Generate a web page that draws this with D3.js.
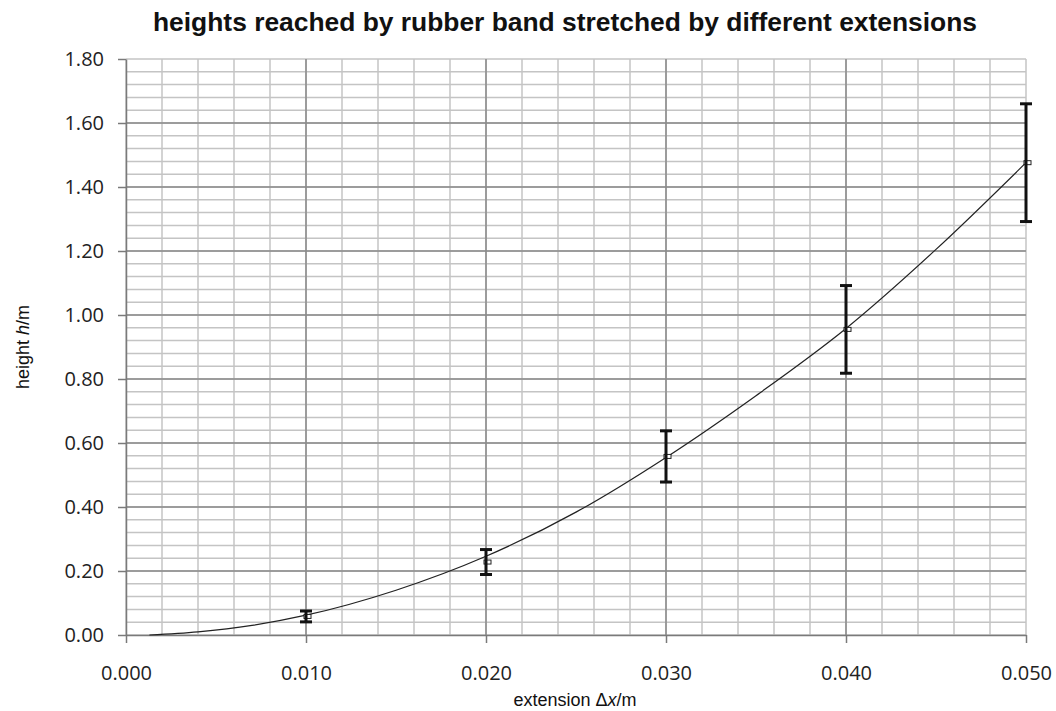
<!DOCTYPE html>
<html><head><meta charset="utf-8">
<script src="https://cdn.jsdelivr.net/npm/d3@7"></script>
<style>
html,body{margin:0;padding:0;background:#fff;}
svg{display:block;}
</style></head>
<body>
<svg id="chart" width="1056" height="711"></svg>
<script>
// ---- data ----
const extensions = [0.010, 0.020, 0.030, 0.040, 0.050];
const heights    = [0.058, 0.228, 0.558, 0.955, 1.476];
const errors     = [0.017, 0.039, 0.080, 0.137, 0.184];
const curveX = [0.0013, 0.004, 0.007, 0.010, 0.015, 0.020, 0.025, 0.030, 0.035, 0.040, 0.045, 0.050];
const curveY = [0.000, 0.010, 0.030, 0.062, 0.140, 0.246, 0.384, 0.555, 0.748, 0.958, 1.205, 1.476];
const xTicks = [0.000, 0.010, 0.020, 0.030, 0.040, 0.050];
const yTicks = [0.00, 0.20, 0.40, 0.60, 0.80, 1.00, 1.20, 1.40, 1.60, 1.80];
const xMinor = d3.range(0, 26).map(i => i * 0.002);
const yMinor = d3.range(0, 46).map(i => i * 0.04);

const svg = d3.select("#chart");
const m = {left:126, right:1026, top:59, bottom:635};
const x = d3.scaleLinear().domain([0, 0.05]).range([m.left, m.right]);
const y = d3.scaleLinear().domain([0, 1.8]).range([m.bottom, m.top]);

// minor grid
svg.append("g").selectAll("line").data(xMinor).join("line")
  .attr("x1", d => x(d)).attr("x2", d => x(d)).attr("y1", y(0)).attr("y2", y(1.8))
  .attr("stroke", "#c4c4c4").attr("stroke-width", 1.5);
svg.append("g").selectAll("line").data(yMinor).join("line")
  .attr("y1", d => y(d)).attr("y2", d => y(d)).attr("x1", x(0)).attr("x2", x(0.05))
  .attr("stroke", "#c4c4c4").attr("stroke-width", 1.5);
// major grid
svg.append("g").selectAll("line").data(xTicks.slice(1, -1)).join("line")
  .attr("x1", d => x(d)).attr("x2", d => x(d)).attr("y1", y(0)).attr("y2", y(1.8))
  .attr("stroke", "#8a8a8a").attr("stroke-width", 1.5);
svg.append("g").selectAll("line").data(yTicks.slice(1, -1)).join("line")
  .attr("y1", d => y(d)).attr("y2", d => y(d)).attr("x1", x(0)).attr("x2", x(0.05))
  .attr("stroke", "#8a8a8a").attr("stroke-width", 1.5);

// axes
const fmtX = d3.format(".3f"), fmtY = d3.format(".2f");
const xAxis = svg.append("g").attr("transform", `translate(0,${y(0)})`)
  .call(d3.axisBottom(x).tickValues(xTicks).tickFormat(fmtX).tickSize(8).tickSizeOuter(0).tickPadding(23));
const yAxis = svg.append("g").attr("transform", `translate(${x(0)},0)`)
  .call(d3.axisLeft(y).tickValues(yTicks).tickFormat(fmtY).tickSize(8).tickSizeOuter(0).tickPadding(14));
[xAxis, yAxis].forEach(g => {
  g.select(".domain").attr("stroke", "#7a7a7a").attr("stroke-width", 1.5);
  g.selectAll(".tick line").attr("stroke", "#7a7a7a").attr("stroke-width", 1.5);
  g.selectAll(".tick text").attr("fill", "#222").style("font-family", "'Open Sans', Lato, sans-serif").style("font-size", "20px");
});
xAxis.selectAll(".tick text").attr("dy", "0.71em");

// trend curve
const line = d3.line().x((d, i) => x(curveX[i])).y(d => y(d)).curve(d3.curveMonotoneX);
svg.append("path").datum(curveY).attr("d", line)
  .attr("fill", "none").attr("stroke", "#222").attr("stroke-width", 1.2);

// markers
const pts = extensions.map((e, i) => ({x: e, h: heights[i], err: errors[i]}));
svg.append("g").selectAll("rect").data(pts).join("rect")
  .attr("x", d => x(d.x) - 2).attr("y", d => y(d.h) - 2).attr("width", 7).attr("height", 4)
  .attr("fill", "#fff").attr("stroke", "#222").attr("stroke-width", 1);

// error bars
const eb = svg.append("g").attr("stroke", "#111").attr("stroke-width", 3);
eb.selectAll("line.v").data(pts).join("line").attr("class", "v")
  .attr("x1", d => x(d.x)).attr("x2", d => x(d.x))
  .attr("y1", d => y(d.h + d.err)).attr("y2", d => y(d.h - d.err));
eb.selectAll("line.t").data(pts).join("line").attr("class", "t")
  .attr("x1", d => x(d.x) - 6).attr("x2", d => x(d.x) + 6)
  .attr("y1", d => y(d.h + d.err)).attr("y2", d => y(d.h + d.err));
eb.selectAll("line.b").data(pts).join("line").attr("class", "b")
  .attr("x1", d => x(d.x) - 6).attr("x2", d => x(d.x) + 6)
  .attr("y1", d => y(d.h - d.err)).attr("y2", d => y(d.h - d.err));

// title
svg.append("text").attr("x", 565).attr("y", 31).attr("text-anchor", "middle")
  .attr("textLength", 824).attr("lengthAdjust", "spacingAndGlyphs")
  .style("font-family", "'Liberation Sans', Arial, sans-serif")
  .style("font-weight", "bold").style("font-size", "25px").attr("fill", "#111")
  .text("heights reached by rubber band stretched by different extensions");

// axis titles
const xt = svg.append("text").attr("x", 575).attr("y", 706).attr("text-anchor", "middle")
  .style("font-family", "'Liberation Sans', Arial, sans-serif").style("font-size", "18px").attr("fill", "#111");
xt.append("tspan").text("extension Δ");
xt.append("tspan").style("font-style", "italic").text("x");
xt.append("tspan").text("/m");

const yt = svg.append("text").attr("transform", `translate(29,${(m.top + m.bottom) / 2}) rotate(-90)`)
  .attr("text-anchor", "middle")
  .style("font-family", "'Liberation Sans', Arial, sans-serif").style("font-size", "18px").attr("fill", "#111");
yt.append("tspan").text("height ");
yt.append("tspan").style("font-style", "italic").text("h");
yt.append("tspan").text("/m");
</script>
</body></html>
